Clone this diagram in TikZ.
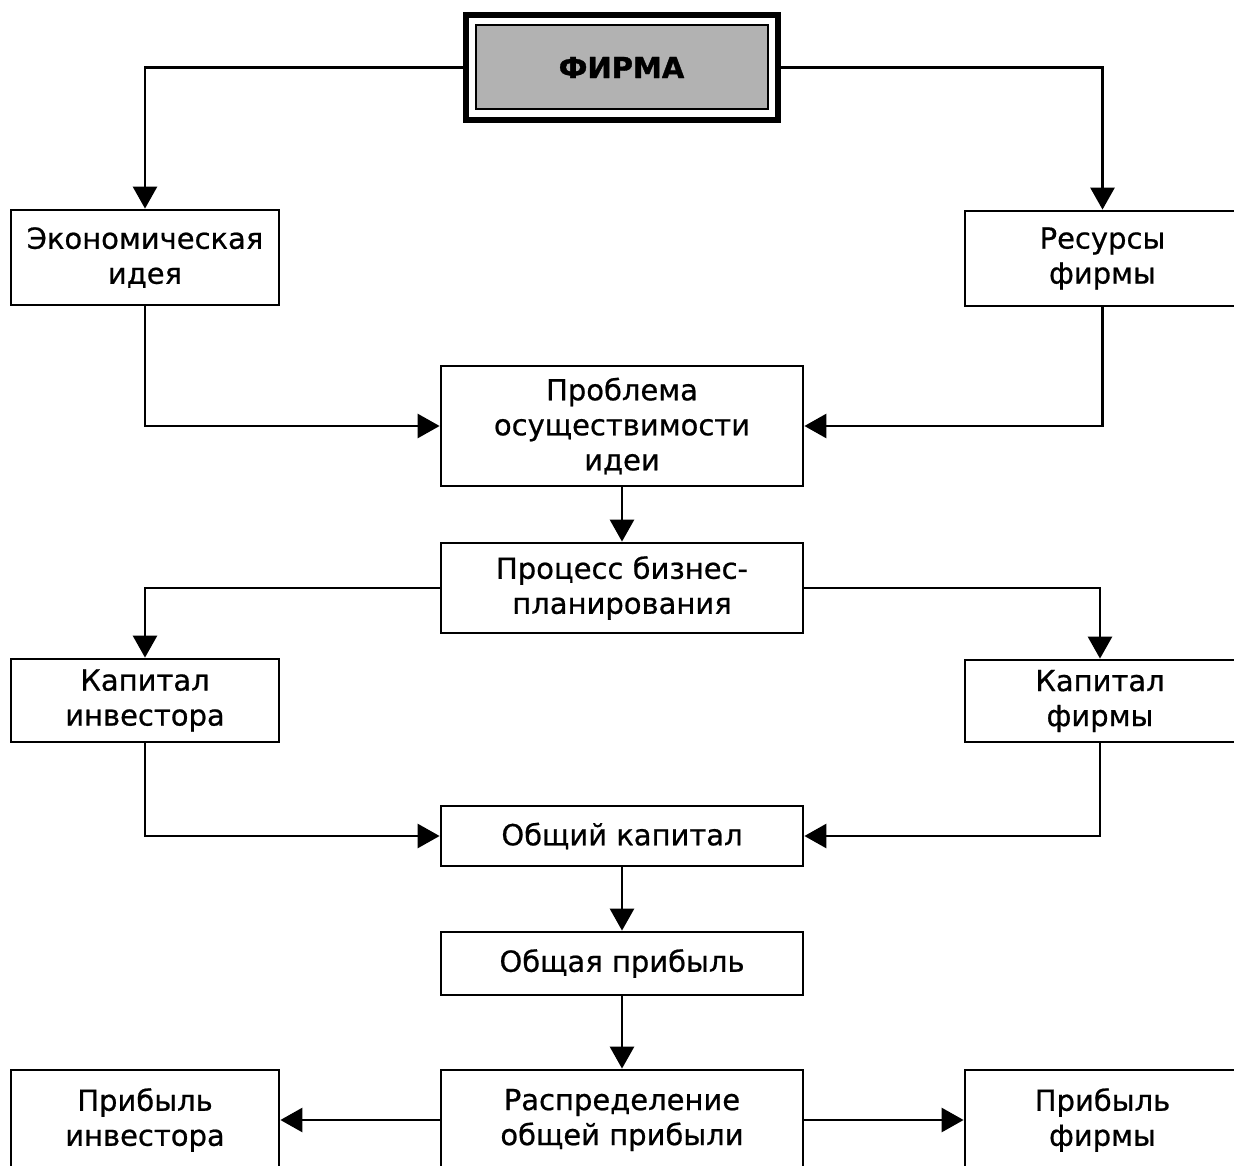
\documentclass[tikz,border=0pt]{standalone}
\usepackage{fontspec}
\setmainfont[FakeBold=0.7]{DejaVu Sans}
\newfontfamily\firmfont{DejaVu Sans Bold}[FakeBold=1.2]
\usetikzlibrary{arrows.meta}
\definecolor{firmgray}{RGB}{178,178,178}
\tikzset{
  box/.style={draw, line width=2.8pt, align=center, inner sep=0pt,
    font=\fontsize{29}{35}\selectfont},
  arr/.style={line width=2.8pt, -{Triangle[length=22pt,width=24pt]}},
}
\begin{document}
\begin{tikzpicture}[x=1pt,y=-1pt]
\clip (0,0) rectangle (1234,1166);
\fill[white] (0,0) rectangle (1234,1166);
% inner gray panel of the firm box
\draw[line width=2.5pt, fill=firmgray] (476,25) rectangle (768,109);
\node (firm) at (621.5,67.5) [draw, line width=6pt, minimum width=312pt, minimum height=105pt,
  inner sep=0pt, font=\fontsize{29}{35}\selectfont\firmfont] {ФИРМА};
\node (eco) at (145,257.5) [box, minimum width=268pt, minimum height=95pt] {Экономическая\\идея};
\node (res) at (1102.5,258.5) [box, minimum width=275pt, minimum height=95pt] {Ресурсы\\фирмы};
\node (prob) at (622,426) [box, minimum width=362pt, minimum height=120pt] {Проблема\\осуществимости\\идеи};
\node (proc) at (622,588) [box, minimum width=362pt, minimum height=90pt] {Процесс бизнес-\\планирования};
\node (kinv) at (145,700.5) [box, minimum width=268pt, minimum height=83pt] {Капитал\\инвестора};
\node (kfirm) at (1100,701) [box, minimum width=270pt, minimum height=82pt] {Капитал\\фирмы};
\node (obsh) at (622,836) [box, minimum width=362pt, minimum height=60pt] {Общий капитал};
\node (prib) at (622,963.5) [box, minimum width=362pt, minimum height=63pt] {Общая прибыль};
\node (raspr) at (622,1120) [box, minimum width=362pt, minimum height=100pt] {Распределение\\общей прибыли};
\node (pinv) at (145,1120) [box, minimum width=268pt, minimum height=100pt] {Прибыль\\инвестора};
\node (pfirm) at (1102.5,1120) [box, minimum width=275pt, minimum height=100pt] {Прибыль\\фирмы};
\draw[arr] (firm.west) -| (eco.north);
\draw[arr] (firm.east) -| (res.north);
\draw[arr] (eco.south) |- (prob.west);
\draw[arr] (res.south) |- (prob.east);
\draw[arr] (prob.south) -- (proc.north);
\draw[arr] (proc.west) -| (kinv.north);
\draw[arr] (proc.east) -| (kfirm.north);
\draw[arr] (kinv.south) |- (obsh.west);
\draw[arr] (kfirm.south) |- (obsh.east);
\draw[arr] (obsh.south) -- (prib.north);
\draw[arr] (prib.south) -- (raspr.north);
\draw[arr] (raspr.west) -- (pinv.east);
\draw[arr] (raspr.east) -- (pfirm.west);
\end{tikzpicture}
\end{document}
